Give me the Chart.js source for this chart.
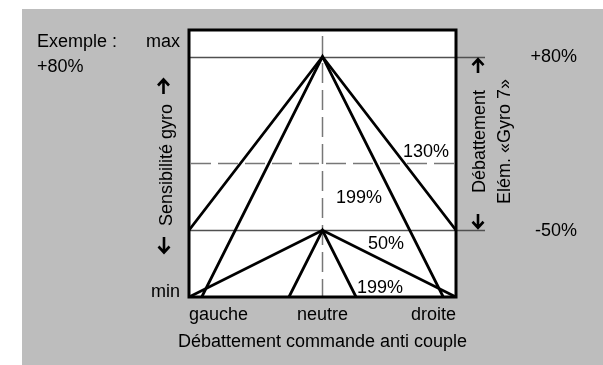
<!DOCTYPE html>
<html>
<head>
<meta charset="utf-8">
<script src="https://cdn.jsdelivr.net/npm/chart.js@4"></script>
<style>
  html, body { margin: 0; padding: 0; background: #ffffff; }
  #wrap { width: 603px; height: 365px; position: relative; }
</style>
</head>
<body>
<div id="wrap"><canvas id="c"></canvas></div>
<script>
// Gyro sensitivity versus tail-rotor stick travel
const xTickValues = [-100, 0, 100];
const xTickLabels = ['gauche', 'neutre', 'droite'];
const yTickValues = [-100, 100];
const yTickLabels = ['min', 'max'];

// Each curve: peak level at stick neutral and the gain of its slopes
const apexLevels = [80, 80, -50, -50];
const gains = [130, 199, 50, 199];
const gainLabels = ['130%', '199%', '50%', '199%'];

// Example travel settings of the "Gyro 7" element
const exampleLevels = [80, -50];
const exampleLabels = ['+80%', '-50%'];

const FONT = '18px "Liberation Sans", Arial, Helvetica, sans-serif';

// Curve falls from the apex with the given gain until it reaches min or the stick end
function curvePoints(apex, gain) {
  let xe = (apex - yTickValues[0]) / (gain / 100);
  if (xe > 100) xe = 100;
  const ye = apex - (gain / 100) * xe;
  return [{x: -xe, y: ye}, {x: 0, y: apex}, {x: xe, y: ye}];
}

const datasets = apexLevels.map((a, i) => ({
  label: gainLabels[i],
  data: curvePoints(a, gains[i]),
  showLine: true,
  borderColor: '#000000',
  borderWidth: 2.8,
  pointRadius: 0,
  tension: 0,
  fill: false
}));

function arrow(ctx, x, yTip, yTail) {
  const dir = yTail > yTip ? 1 : -1;
  ctx.beginPath();
  ctx.moveTo(x, yTip + dir * 1);
  ctx.lineTo(x, yTail);
  ctx.moveTo(x - 5.5, yTip + dir * 6.5);
  ctx.lineTo(x, yTip + dir * 0.5);
  ctx.lineTo(x + 5.5, yTip + dir * 6.5);
  ctx.stroke();
}

const drawing = {
  id: 'drawing',
  beforeDraw(chart) {
    const ctx = chart.ctx;
    const a = chart.chartArea;
    ctx.save();
    ctx.fillStyle = '#ffffff';
    ctx.fillRect(0, 0, chart.width, chart.height);
    ctx.fillStyle = '#bdbdbd';
    ctx.fillRect(22, 9, chart.width - 22, chart.height - 9);
    ctx.fillStyle = '#ffffff';
    ctx.fillRect(a.left, a.top, a.right - a.left, a.bottom - a.top);
    ctx.restore();
  },
  beforeDatasetsDraw(chart) {
    const ctx = chart.ctx;
    const a = chart.chartArea;
    const xs = chart.scales.x, ys = chart.scales.y;
    ctx.save();
    // centre cross (dashed)
    ctx.strokeStyle = '#777777';
    ctx.lineWidth = 1.5;
    ctx.setLineDash([20, 7]);
    const x0 = xs.getPixelForValue(0);
    ctx.beginPath();
    ctx.moveTo(x0, a.top + 6);
    ctx.lineTo(x0, a.bottom);
    ctx.stroke();
    const y0 = ys.getPixelForValue(0);
    ctx.beginPath();
    ctx.moveTo(a.left + 2, y0);
    ctx.lineTo(a.right, y0);
    ctx.stroke();
    ctx.setLineDash([]);
    // example travel limits
    ctx.strokeStyle = '#505050';
    ctx.lineWidth = 1.3;
    exampleLevels.forEach(v => {
      const y = Math.round(ys.getPixelForValue(v)) + 0.5;
      ctx.beginPath();
      ctx.moveTo(a.left, y);
      ctx.lineTo(a.right + 29, y);
      ctx.stroke();
    });
    ctx.restore();
  },
  afterDraw(chart) {
    const ctx = chart.ctx;
    const a = chart.chartArea;
    const xs = chart.scales.x, ys = chart.scales.y;
    ctx.save();
    // frame
    ctx.strokeStyle = '#000000';
    ctx.lineWidth = 3;
    ctx.strokeRect(a.left, a.top, a.right - a.left, a.bottom - a.top);

    ctx.fillStyle = '#000000';
    ctx.font = FONT;
    ctx.textBaseline = 'alphabetic';

    // stick travel labels
    xTickValues.forEach((v, i) => {
      const x = xs.getPixelForValue(v);
      ctx.textAlign = i === 0 ? 'left' : (i === xTickValues.length - 1 ? 'right' : 'center');
      ctx.fillText(xTickLabels[i], x, a.bottom + 23);
    });
    ctx.textAlign = 'center';
    ctx.fillText('Débattement commande anti couple', (a.left + a.right) / 2, 347);

    // sensitivity labels
    ctx.textAlign = 'right';
    ctx.fillText(yTickLabels[0], a.left - 9, ys.getPixelForValue(yTickValues[0]));
    ctx.fillText(yTickLabels[1], a.left - 9, ys.getPixelForValue(yTickValues[1]) + 17);

    ctx.textAlign = 'left';
    ctx.fillText('Exemple :', 37, 47);
    ctx.fillText(exampleLabels[0], 37, 72);

    // example values on the right
    ctx.textAlign = 'right';
    exampleLevels.forEach((v, i) => {
      ctx.fillText(exampleLabels[i], 577, ys.getPixelForValue(v) + 5.5);
    });

    // gain labels
    const gainPos = [[403, 157], [336, 203], [368, 249], [357, 293]];
    ctx.textAlign = 'left';
    gainLabels.forEach((t, i) => ctx.fillText(t, gainPos[i][0], gainPos[i][1]));

    // vertical titles
    const vtext = (t, x, y) => {
      ctx.save();
      ctx.translate(x, y);
      ctx.rotate(-Math.PI / 2);
      ctx.textAlign = 'center';
      ctx.textBaseline = 'alphabetic';
      ctx.fillText(t, 0, 0);
      ctx.restore();
    };
    vtext('Sensibilité gyro', 172, 165);
    vtext('Débattement', 485, 141.5);
    vtext('Elém. «Gyro 7»', 510, 141.5);

    // arrows
    ctx.strokeStyle = '#000000';
    ctx.lineWidth = 2.6;
    ctx.lineCap = 'butt';
    ctx.lineJoin = 'miter';
    arrow(ctx, 163.5, 79, 94);
    arrow(ctx, 164, 253, 237);
    arrow(ctx, 478, ys.getPixelForValue(exampleLevels[0]) + 2, 73);
    arrow(ctx, 478, ys.getPixelForValue(exampleLevels[1]) - 2, 214);
    ctx.restore();
  }
};

new Chart(document.getElementById('c'), {
  type: 'scatter',
  data: { datasets },
  options: {
    responsive: true,
    maintainAspectRatio: false,
    animation: false,
    layout: { padding: { left: 189, right: 147, top: 30, bottom: 68 } },
    plugins: { legend: { display: false }, tooltip: { enabled: false } },
    scales: {
      x: { type: 'linear', min: -100, max: 100, display: false },
      y: { type: 'linear', min: -100, max: 100, display: false }
    }
  },
  plugins: [drawing]
});
</script>
</body>
</html>
